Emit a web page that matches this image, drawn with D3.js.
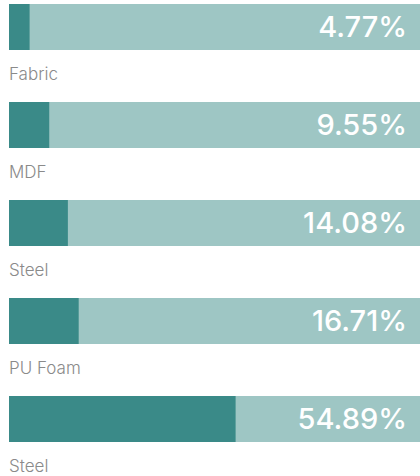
<!DOCTYPE html>
<html><head><meta charset="utf-8">
<script src="https://cdn.jsdelivr.net/npm/d3@7"></script>
<style>html,body{margin:0;padding:0;background:#fff;}svg{display:block;}</style>
</head><body>
<svg id="chart" width="420" height="476"></svg>
<script>
const categories = ["Fabric", "MDF", "Steel", "PU Foam", "Steel"];
const values = [4.77, 9.55, 14.08, 16.71, 54.89];
const valueLabels = ["4.77%", "9.55%", "14.08%", "16.71%", "54.89%"];

const svg = d3.select("#chart");
const x = d3.scaleLinear().domain([0, 100]).range([9, 420]);
const y = d3.scaleBand().domain(d3.range(values.length)).range([4, 442]).paddingInner(52 / 98).paddingOuter(0);
const bh = y.bandwidth();

const g = svg.selectAll("g.row").data(values).join("g").attr("class", "row");
g.append("rect")
  .attr("x", x(0)).attr("y", (d, i) => y(i))
  .attr("width", x(100) - x(0)).attr("height", bh)
  .attr("fill", "#9ec6c4");
g.append("rect")
  .attr("x", x(0)).attr("y", (d, i) => y(i))
  .attr("width", d => x(d) - x(0) + 1).attr("height", bh)
  .attr("fill", "#3a8a88");
g.append("text")
  .attr("x", 407).attr("y", (d, i) => y(i) + 33)
  .attr("text-anchor", "end")
  .attr("font-family", "Inter, 'Open Sans', sans-serif")
  .attr("font-weight", 500)
  .attr("font-size", 29).attr("fill", "#fff")
  .text((d, i) => valueLabels[i]);
g.append("text")
  .attr("x", 9).attr("y", (d, i) => y(i) + 76)
  .attr("font-family", "Inter, 'Open Sans', sans-serif")
  .attr("font-weight", 300)
  .attr("font-size", 17).attr("fill", "#8a8a8a")
  .text((d, i) => categories[i]);
</script>
</body></html>
